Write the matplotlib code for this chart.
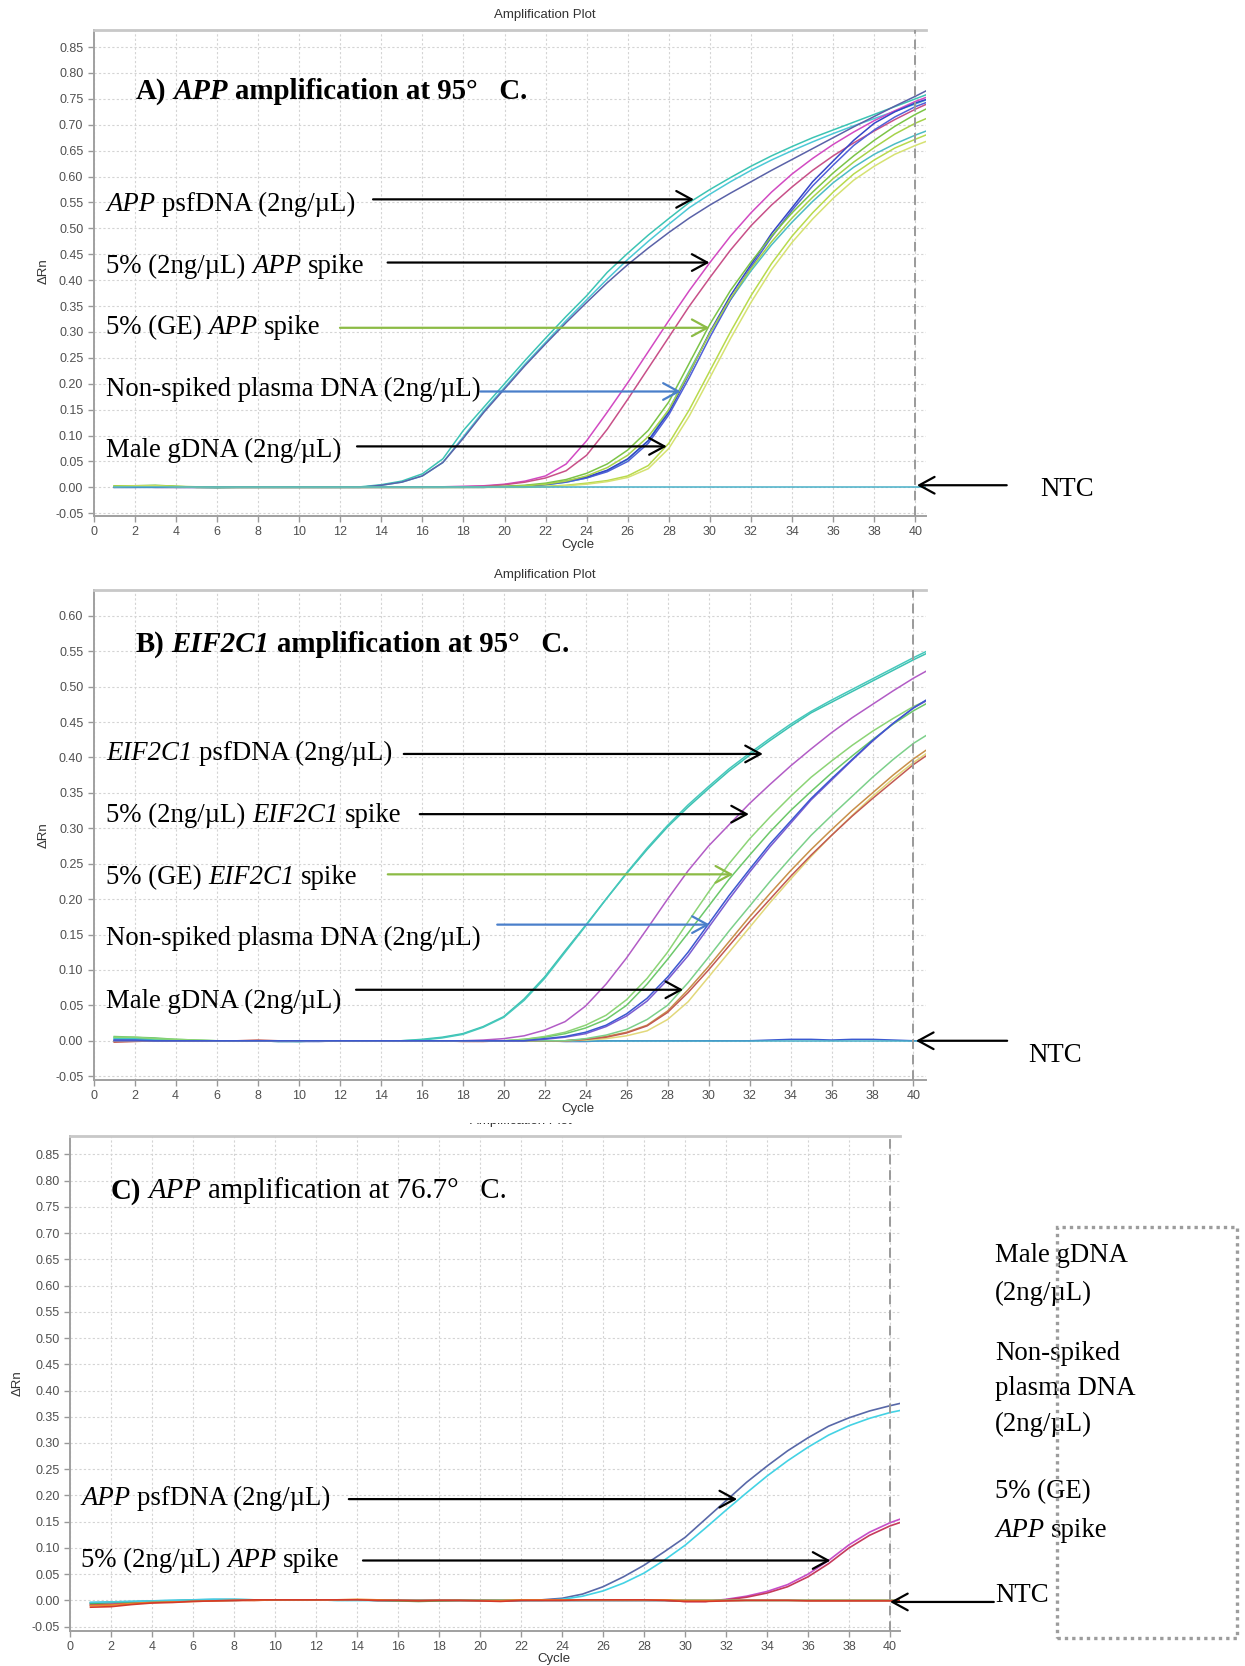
import matplotlib
matplotlib.use("Agg")
import matplotlib.pyplot as plt
from matplotlib.ticker import MultipleLocator, FormatStrFormatter
from matplotlib.transforms import IdentityTransform
from matplotlib.patches import Rectangle

plt.rcParams["axes.unicode_minus"] = False

# ---------------- data (delta Rn per cycle, cycles 1..41) ----------------
cycles = list(range(1, 42))

# A) APP at 95 C
a_psf_teal = [0.002, 0.003, 0.003, 0.001, 0.0, -0.001, 0.0, 0.0, 0.0, 0.0, 0.0, 0.0,
              0.001, 0.005, 0.012, 0.026, 0.055, 0.11, 0.155, 0.20, 0.245, 0.288, 0.33, 0.37,
              0.415, 0.452, 0.487, 0.519, 0.55, 0.575, 0.598, 0.62, 0.64, 0.658, 0.675, 0.69,
              0.705, 0.72, 0.735, 0.75, 0.765]
a_psf_cyan = [0.001, 0.002, 0.002, 0.001, 0.0, 0.0, 0.0, 0.0, 0.0, 0.0, 0.0, 0.0,
              0.0, 0.004, 0.01, 0.022, 0.048, 0.098, 0.148, 0.193, 0.238, 0.28, 0.322, 0.362,
              0.402, 0.44, 0.475, 0.508, 0.54, 0.566, 0.59, 0.612, 0.632, 0.65, 0.667, 0.683,
              0.698, 0.712, 0.726, 0.74, 0.755]
a_psf_slate = [0.0, 0.0, 0.001, 0.0, 0.0, 0.0, 0.0, 0.0, 0.0, 0.0, 0.0, 0.0,
               0.0, 0.004, 0.01, 0.022, 0.048, 0.095, 0.145, 0.19, 0.235, 0.277, 0.318, 0.357,
               0.395, 0.43, 0.462, 0.492, 0.52, 0.545, 0.568, 0.59, 0.612, 0.633, 0.654, 0.675,
               0.696, 0.716, 0.736, 0.755, 0.775]
a_spk_magenta = [0.001, 0.001, 0.0, 0.0, 0.0, 0.0, 0.0, 0.0, 0.0, 0.0, 0.0, 0.0, 0.0, 0.0, 0.0, 0.0,
                 0.001, 0.002, 0.003, 0.006, 0.012, 0.022, 0.045, 0.09, 0.145, 0.202, 0.262, 0.322,
                 0.38, 0.434, 0.485, 0.53, 0.57, 0.605, 0.635, 0.662, 0.686, 0.708, 0.727, 0.745, 0.76]
a_spk_pink = [0.0, 0.001, 0.0, 0.0, 0.0, 0.0, 0.0, 0.0, 0.0, 0.0, 0.0, 0.0, 0.0, 0.0, 0.0, 0.0,
              0.0, 0.001, 0.002, 0.005, 0.01, 0.018, 0.032, 0.062, 0.112, 0.17, 0.23, 0.29,
              0.35, 0.405, 0.458, 0.505, 0.545, 0.58, 0.612, 0.64, 0.665, 0.688, 0.71, 0.73, 0.748]
a_ge_green = [0.003, 0.003, 0.004, 0.002, 0.0, 0.0, 0.0, 0.0, 0.0, 0.0, 0.0, 0.0, 0.0, 0.0, 0.0,
              0.0, 0.0, 0.0, 0.001, 0.002, 0.004, 0.008, 0.015, 0.027, 0.045, 0.072, 0.11, 0.165,
              0.24, 0.315, 0.38, 0.435, 0.485, 0.53, 0.57, 0.607, 0.64, 0.67, 0.697, 0.72, 0.74]
a_ge_lime = [0.002, 0.003, 0.003, 0.002, 0.001, 0.0, 0.0, 0.0, 0.0, 0.0, 0.0, 0.0, 0.0, 0.0, 0.0,
             0.0, 0.0, 0.0, 0.0, 0.001, 0.003, 0.006, 0.012, 0.022, 0.038, 0.062, 0.098, 0.15,
             0.222, 0.298, 0.365, 0.422, 0.474, 0.52, 0.56, 0.596, 0.628, 0.656, 0.682, 0.703, 0.72]
a_ns_blue = [0.0, 0.0, 0.0, 0.0, 0.0, 0.0, 0.0, 0.0, 0.0, 0.0, 0.0, 0.0, 0.0, 0.0, 0.0, 0.0, 0.0,
             0.0, 0.0, 0.001, 0.003, 0.006, 0.012, 0.02, 0.033, 0.055, 0.09, 0.145, 0.22, 0.3,
             0.37, 0.43, 0.49, 0.54, 0.59, 0.63, 0.67, 0.703, 0.725, 0.742, 0.755]
a_ns_violet = [0.0, 0.0, 0.0, 0.0, 0.0, 0.0, 0.0, 0.0, 0.0, 0.0, 0.0, 0.0, 0.0, 0.0, 0.0, 0.0, 0.0,
               0.0, 0.0, 0.001, 0.002, 0.005, 0.01, 0.018, 0.03, 0.05, 0.085, 0.14, 0.212, 0.29,
               0.362, 0.425, 0.483, 0.535, 0.582, 0.622, 0.66, 0.69, 0.715, 0.735, 0.75]
a_ns_cyan = [0.0, 0.0, 0.0, 0.0, 0.0, 0.0, 0.0, 0.0, 0.0, 0.0, 0.0, 0.0, 0.0, 0.0, 0.0, 0.0, 0.0,
             0.0, 0.0, 0.001, 0.002, 0.005, 0.01, 0.018, 0.032, 0.054, 0.09, 0.15, 0.225, 0.298,
             0.362, 0.418, 0.468, 0.512, 0.552, 0.588, 0.618, 0.643, 0.663, 0.68, 0.695]
a_male_lime = [0.002, 0.002, 0.003, 0.001, 0.0, 0.0, 0.0, 0.0, 0.0, 0.0, 0.0, 0.0, 0.0, 0.0, 0.0,
               0.0, 0.0, 0.0, 0.0, 0.0, 0.0, 0.002, 0.004, 0.008, 0.013, 0.022, 0.042, 0.085,
               0.15, 0.225, 0.3, 0.37, 0.432, 0.485, 0.53, 0.57, 0.605, 0.632, 0.655, 0.672, 0.688]
a_male_yellow = [0.001, 0.002, 0.002, 0.001, 0.0, 0.0, 0.0, 0.0, 0.0, 0.0, 0.0, 0.0, 0.0, 0.0, 0.0,
                 0.0, 0.0, 0.0, 0.0, 0.0, 0.0, 0.001, 0.003, 0.006, 0.011, 0.019, 0.036, 0.075,
                 0.138, 0.212, 0.287, 0.357, 0.42, 0.473, 0.518, 0.558, 0.593, 0.62, 0.643, 0.66, 0.675]
a_ntc = [0.0, 0.0, 0.0, 0.0, 0.0, 0.0, 0.0, 0.0, 0.0, 0.0, 0.0, 0.0, 0.0, 0.0, 0.0, 0.0, 0.0,
         0.0, 0.0, 0.0, 0.0, 0.0, 0.0, 0.0, 0.0, 0.0, 0.0, 0.0, 0.0, 0.0, 0.0, 0.0, 0.0, 0.0,
         0.0, 0.0, 0.0, 0.0, 0.0, 0.0, 0.0]

# B) EIF2C1 at 95 C
b_psf_teal = [0.004, 0.003, 0.002, 0.001, 0.0, 0.0, 0.0, 0.0, -0.001, -0.001, 0.0, 0.0, 0.0, 0.0,
              0.0, 0.002, 0.005, 0.01, 0.02, 0.034, 0.059, 0.09, 0.127, 0.163, 0.2, 0.236, 0.27,
              0.302, 0.33, 0.356, 0.381, 0.403, 0.424, 0.444, 0.463, 0.478, 0.493, 0.508, 0.523,
              0.538, 0.552]
b_psf_aqua = [0.003, 0.003, 0.002, 0.001, 0.0, 0.0, 0.0, 0.0, 0.0, -0.001, 0.0, 0.0, 0.0, 0.0,
              0.0, 0.001, 0.004, 0.009, 0.019, 0.033, 0.057, 0.088, 0.125, 0.162, 0.2, 0.237, 0.272,
              0.304, 0.333, 0.359, 0.384, 0.406, 0.427, 0.447, 0.465, 0.481, 0.496, 0.511, 0.526,
              0.541, 0.555]
b_spk_purple = [0.0, 0.0, 0.0, 0.0, 0.0, 0.0, 0.0, 0.0, 0.0, 0.0, 0.0, 0.0, 0.0, 0.0, 0.0, 0.0,
                0.0, 0.0, 0.001, 0.003, 0.007, 0.015, 0.027, 0.049, 0.08, 0.117, 0.158, 0.2,
                0.24, 0.275, 0.305, 0.335, 0.362, 0.388, 0.412, 0.435, 0.456, 0.475, 0.494,
                0.512, 0.528]
b_ge_green = [0.006, 0.005, 0.004, 0.002, 0.001, 0.0, 0.0, 0.0, 0.0, 0.0, 0.0, 0.0, 0.0, 0.0,
              0.0, 0.0, 0.0, 0.0, 0.0, 0.0, 0.002, 0.005, 0.01, 0.018, 0.03, 0.05, 0.08, 0.115,
              0.152, 0.19, 0.228, 0.262, 0.295, 0.325, 0.352, 0.378, 0.402, 0.425, 0.447,
              0.466, 0.482]
b_ge_mint = [0.005, 0.005, 0.003, 0.002, 0.001, 0.0, 0.0, 0.0, 0.0, 0.0, 0.0, 0.0, 0.0, 0.0,
             0.0, 0.0, 0.0, 0.0, 0.0, 0.0, 0.002, 0.006, 0.012, 0.022, 0.036, 0.058, 0.088,
             0.125, 0.168, 0.21, 0.25, 0.285, 0.316, 0.345, 0.372, 0.395, 0.417, 0.437, 0.455,
             0.472, 0.485]
b_ns_blue = [0.001, 0.001, 0.0, 0.0, 0.0, 0.0, 0.0, 0.0, 0.0, 0.0, 0.0, 0.0, 0.0, 0.0, 0.0, 0.0,
             0.0, 0.0, 0.0, 0.0, 0.0, 0.003, 0.006, 0.012, 0.022, 0.038, 0.06, 0.09, 0.125,
             0.165, 0.205, 0.242, 0.278, 0.31, 0.342, 0.37, 0.397, 0.424, 0.448, 0.47, 0.488]
b_ns_violet = [0.0, 0.0, 0.0, 0.0, 0.0, 0.0, 0.0, 0.0, 0.0, 0.0, 0.0, 0.0, 0.0, 0.0, 0.0, 0.0,
               0.0, 0.0, 0.0, 0.0, 0.0, 0.002, 0.005, 0.01, 0.02, 0.035, 0.056, 0.086, 0.12,
               0.16, 0.2, 0.238, 0.274, 0.307, 0.34, 0.368, 0.396, 0.423, 0.448, 0.47, 0.486]
b_male_orange = [0.0, 0.0, 0.0, 0.0, 0.0, 0.0, 0.0, 0.0, 0.0, 0.0, 0.0, 0.0, 0.0, 0.0, 0.0, 0.0,
                 0.0, 0.0, 0.0, 0.0, 0.0, 0.0, 0.0, 0.002, 0.006, 0.012, 0.022, 0.042, 0.072,
                 0.105, 0.14, 0.175, 0.208, 0.24, 0.27, 0.298, 0.325, 0.35, 0.375, 0.398, 0.418]
b_male_red = [-0.002, -0.001, 0.0, 0.0, 0.0, 0.0, 0.0, 0.001, 0.0, 0.0, 0.0, 0.0, 0.0, 0.0, 0.0,
              0.0, 0.0, -0.001, -0.001, 0.0, 0.0, 0.0, 0.0, 0.002, 0.005, 0.011, 0.021, 0.04,
              0.068, 0.1, 0.134, 0.168, 0.2, 0.232, 0.262, 0.29, 0.317, 0.342, 0.366, 0.39, 0.41]
b_male_yellow = [0.0, 0.0, 0.0, 0.0, 0.0, 0.0, 0.0, 0.0, 0.0, 0.0, 0.0, 0.0, 0.0, 0.0, 0.0, 0.0,
                 0.0, 0.0, 0.0, 0.0, 0.0, 0.0, 0.0, 0.001, 0.003, 0.007, 0.014, 0.03, 0.055,
                 0.09, 0.125, 0.16, 0.195, 0.228, 0.26, 0.29, 0.318, 0.345, 0.37, 0.393, 0.413]
b_male_lgreen = [0.0, 0.0, 0.0, 0.0, 0.0, 0.0, 0.0, 0.0, 0.0, 0.0, 0.0, 0.0, 0.0, 0.0, 0.0, 0.0,
                 0.0, 0.0, 0.0, 0.0, 0.0, 0.0, 0.0, 0.003, 0.008, 0.016, 0.03, 0.05, 0.082,
                 0.118, 0.155, 0.19, 0.225, 0.258, 0.29, 0.318, 0.345, 0.372, 0.397, 0.42, 0.438]
b_ntc_teal = [0.0, 0.0, 0.0, 0.0, 0.0, 0.0, 0.0, 0.0, 0.0, 0.0, 0.0, 0.0, 0.0, 0.0, 0.0, 0.0,
              0.0, 0.0, 0.0, 0.0, 0.0, 0.0, 0.0, 0.0, 0.0, 0.0, 0.0, 0.0, 0.0, 0.0, 0.0, 0.0,
              0.0, 0.0, 0.0, 0.0, 0.0, 0.0, 0.0, 0.0, 0.0]
b_ntc_blue = [0.001, 0.001, 0.0, 0.0, 0.0, 0.0, 0.0, 0.0, -0.001, -0.001, -0.001, 0.0, 0.0, 0.0,
              0.0, 0.0, 0.0, 0.0, 0.0, 0.0, 0.0, 0.0, -0.001, -0.001, 0.0, 0.0, 0.0, 0.0, 0.0,
              0.0, 0.0, 0.0, 0.001, 0.002, 0.002, 0.001, 0.002, 0.002, 0.001, 0.0, 0.0]

# C) APP at 76.7 C
c_psf_slate = [-0.005, -0.004, -0.003, -0.002, -0.001, 0.0, 0.0, 0.001, 0.001, 0.001, 0.001,
               0.001, 0.001, 0.001, 0.0, 0.0, 0.0, 0.0, 0.0, 0.0, 0.0, 0.0, 0.001, 0.004, 0.012,
               0.026, 0.045, 0.067, 0.093, 0.12, 0.155, 0.19, 0.225, 0.256, 0.285, 0.31, 0.332,
               0.348, 0.361, 0.371, 0.38]
c_psf_cyan = [-0.004, -0.003, -0.002, -0.001, 0.0, 0.001, 0.002, 0.002, 0.001, 0.001, 0.001,
              0.001, 0.0, 0.0, 0.0, 0.0, 0.0, 0.0, 0.0, 0.0, 0.0, 0.0, 0.0, 0.002, 0.008, 0.018,
              0.033, 0.052, 0.077, 0.105, 0.138, 0.172, 0.205, 0.237, 0.266, 0.292, 0.315, 0.333,
              0.347, 0.358, 0.366]
c_spk_magenta = [-0.008, -0.007, -0.005, -0.003, -0.002, -0.001, 0.0, 0.0, 0.001, 0.001, 0.001,
                 0.001, 0.001, 0.001, 0.0, 0.0, 0.0, 0.0, 0.0, 0.0, -0.001, 0.0, 0.0, 0.0, 0.0,
                 0.0, 0.0, 0.0, 0.0, -0.002, -0.002, 0.002, 0.008, 0.017, 0.03, 0.05, 0.076,
                 0.106, 0.13, 0.148, 0.162]
c_spk_red = [-0.009, -0.008, -0.006, -0.004, -0.002, -0.001, 0.0, 0.0, 0.0, 0.001, 0.001, 0.001,
             0.001, 0.001, 0.0, 0.0, 0.0, 0.0, 0.0, 0.0, -0.001, 0.0, 0.0, 0.0, 0.0, 0.0, 0.0,
             0.0, 0.0, -0.002, -0.002, 0.001, 0.006, 0.014, 0.026, 0.045, 0.07, 0.1, 0.124,
             0.142, 0.155]
c_base_green = [-0.006, -0.004, -0.003, -0.002, -0.001, 0.0, 0.0, 0.0, 0.001, 0.001, 0.001,
                0.001, 0.001, 0.001, 0.0, -0.001, -0.002, -0.001, 0.0, 0.0, 0.0, 0.0, 0.0, 0.0,
                0.0, 0.0, 0.0, 0.0, 0.0, 0.0, 0.0, 0.0, 0.0, 0.0, 0.0, 0.0, 0.0, 0.0, 0.0, 0.0, 0.0]
c_base_cyan = [-0.004, -0.003, -0.002, -0.001, 0.0, 0.001, 0.002, 0.002, 0.001, 0.001, 0.001,
               0.001, 0.0, 0.0, 0.0, 0.0, 0.0, 0.0, 0.0, 0.0, 0.0, 0.0, 0.0, 0.0, 0.0, 0.0, 0.0,
               0.0, 0.0, 0.0, 0.0, 0.0, 0.0, 0.0, 0.0, 0.0, 0.0, 0.0, 0.0, 0.0, 0.0]
c_base_orange = [-0.01, -0.009, -0.006, -0.004, -0.003, -0.002, -0.001, 0.0, 0.0, 0.001, 0.001,
                 0.001, 0.001, 0.002, 0.001, 0.0, 0.0, 0.0, 0.0, 0.0, 0.0, 0.001, 0.001, 0.001,
                 0.001, 0.001, 0.001, 0.001, 0.001, 0.0, 0.0, 0.0, 0.0, 0.0, 0.0, 0.0, 0.0, 0.0,
                 0.0, 0.0, 0.0]
c_base_red = [-0.013, -0.012, -0.008, -0.005, -0.004, -0.002, -0.001, 0.0, 0.001, 0.001, 0.001,
              0.001, 0.001, 0.001, 0.0, 0.0, -0.001, 0.0, 0.0, -0.001, -0.002, 0.0, 0.0, 0.0,
              0.001, 0.001, 0.001, 0.001, 0.0, -0.002, -0.002, -0.001, 0.0, 0.0, 0.0, -0.001,
              -0.001, -0.001, -0.001, -0.001, -0.001]

# ---------------- layout ----------------
W, H, DPI = 1245, 1666, 100
SERIF = "Liberation Serif"
SANS = "Liberation Sans"
LABEL_PT = 19.3
TITLE_PT = 20.8

fig = plt.figure(figsize=(W / DPI, H / DPI), dpi=DPI, facecolor="white")
renderer = fig.canvas.get_renderer()
px = IdentityTransform()


def add_panel(l, t, r, b, xmax, ymin, ymax):
    ax = fig.add_axes([l / W, 1 - b / H, (r - l) / W, (b - t) / H])
    ax.set_xlim(0, xmax)
    ax.set_ylim(ymin, ymax)
    ax.xaxis.set_major_locator(MultipleLocator(2))
    ax.yaxis.set_major_locator(MultipleLocator(0.05))
    ax.yaxis.set_major_formatter(FormatStrFormatter("%.2f"))
    ax.grid(True, ls=(0, (2, 2)), color="#d4d4d4", lw=0.8)
    ax.set_axisbelow(True)
    ax.tick_params(labelsize=9, labelcolor="#505050", color="#999999", length=4, width=1)
    for lbl in ax.get_xticklabels() + ax.get_yticklabels():
        lbl.set_family(SANS)
    ax.spines["right"].set_visible(False)
    ax.spines["top"].set_color("#c8c8c8")
    ax.spines["top"].set_linewidth(2)
    for s in ("left", "bottom"):
        ax.spines[s].set_color("#a0a0a0")
        ax.spines[s].set_linewidth(1.4)
    ax.axvline(40, color="#9a9a9a", ls=(0, (5, 3)), lw=1.4, zorder=5)
    return ax


def ptext(x, y, s, **kw):
    return fig.text(x, H - y, s, transform=px, **kw)


def measure(s, **kw):
    t = fig.text(0, 0, s, **kw)
    w = t.get_window_extent(renderer).width
    t.remove()
    return w


def rich(x, yc, parts, size=LABEL_PT):
    # parts: (text, style, weight); a lone " " advances by one space
    space = measure("n n", family=SERIF, size=size) - measure("nn", family=SERIF, size=size)
    base = H - yc - 0.33 * size * DPI / 72
    for s, style, weight in parts:
        if s == " ":
            x += space
            continue
        t = fig.text(x, base, s, transform=px, family=SERIF, size=size, style=style,
                     weight=weight, va="baseline", ha="left")
        x += t.get_window_extent(renderer).width


def arrow(ax, tail, tip, y, color):
    ax.annotate("", xy=(tip, y), xytext=(tail, y), annotation_clip=False,
                arrowprops=dict(arrowstyle="->,head_length=0.55,head_width=0.3",
                                color=color, lw=1.6, shrinkA=0, shrinkB=0,
                                mutation_scale=20))


def frame_labels(title_xy, xlabel_xy, ylabel_xy):
    ptext(*title_xy, "Amplification Plot", family=SANS, size=9.5, color="#333333",
          ha="center", va="center")
    ptext(*xlabel_xy, "Cycle", family=SANS, size=9.5, color="#333333", ha="center", va="center")
    ptext(*ylabel_xy, "\u0394Rn", family=SANS, size=9.5, color="#333333", ha="center",
          va="center", rotation=90)


BLACK, GREEN, BLUE = "#000000", "#8cbb45", "#4a7fca"
N, I = "normal", "italic"

# ---------------- panel A ----------------
axA = add_panel(93.7, 30, 926.2, 516, 40.53, -0.0554, 0.883)
for vals, col in [(a_psf_teal, "#3cc4b4"), (a_psf_cyan, "#4cc8d6"),
                  (a_psf_slate, "#5a62a8"), (a_spk_magenta, "#d24ac2"), (a_spk_pink, "#c85088"),
                  (a_ns_cyan, "#4cbcc4"), (a_ns_violet, "#5060d8"), (a_ns_blue, "#3446c6"),
                  (a_ge_green, "#7cc447"), (a_ge_lime, "#a6d24a"),
                  (a_male_lime, "#b8da4c"), (a_male_yellow, "#d6e272"), (a_ntc, "#48b0c8")]:
    axA.plot(cycles, vals, color=col, lw=1.1)
frame_labels((545, 15), (578, 545), (43.5, 271))

rich(135.6, 89, [("A)", N, "bold"), (" ", N, N), ("APP", I, "bold"),
                 (" ", N, N), ("amplification at 95\u00b0   C.", N, "bold")], TITLE_PT)
rich(106, 202, [("APP", I, N), (" ", N, N), ("psfDNA (2ng/\u00b5L)", N, N)])
rich(106, 264, [("5% (2ng/\u00b5L)", N, N), (" ", N, N), ("APP", I, N), (" ", N, N), ("spike", N, N)])
rich(106, 325, [("5% (GE)", N, N), (" ", N, N), ("APP", I, N), (" ", N, N), ("spike", N, N)])
rich(106, 387.5, [("Non-spiked plasma DNA (2ng/\u00b5L)", N, N)])
rich(106, 448, [("Male gDNA (2ng/\u00b5L)", N, N)])
rich(1040, 487.5, [("NTC", N, N)])
arrow(axA, 13.60, 29.22, 0.556, BLACK)
arrow(axA, 14.31, 29.98, 0.434, BLACK)
arrow(axA, 11.99, 29.98, 0.308, GREEN)
arrow(axA, 18.83, 28.58, 0.185, BLUE)
arrow(axA, 12.82, 27.90, 0.079, BLACK)
arrow(axA, 44.45, 40.08, 0.004, BLACK)

# ---------------- panel B ----------------
axB = add_panel(93.7, 590, 926.2, 1080, 40.62, -0.0554, 0.6365)
for vals, col in [(b_ntc_blue, "#3a5ad0"), (b_ntc_teal, "#48b0c8"),
                  (b_psf_teal, "#3cc2b2"), (b_psf_aqua, "#46c8bc"), (b_spk_purple, "#b25cc6"),
                  (b_male_yellow, "#e2d87a"), (b_male_orange, "#c8904a"),
                  (b_male_red, "#c25a52"), (b_male_lgreen, "#7cd08a"),
                  (b_ge_green, "#6cc86a"), (b_ge_mint, "#8cd476"),
                  (b_ns_violet, "#7a5cd2"), (b_ns_blue, "#3c58d0")]:
    axB.plot(cycles, vals, color=col, lw=1.1)
frame_labels((545, 575), (578, 1109), (43.5, 835))

rich(135.6, 642.5, [("B)", N, "bold"), (" ", N, N), ("EIF2C1", I, "bold"),
                    (" ", N, N), ("amplification at 95\u00b0   C.", N, "bold")], TITLE_PT)
rich(106, 751.6, [("EIF2C1", I, N), (" ", N, N), ("psfDNA (2ng/\u00b5L)", N, N)])
rich(106, 812.7, [("5% (2ng/\u00b5L)", N, N), (" ", N, N), ("EIF2C1", I, N), (" ", N, N),
                  ("spike", N, N)])
rich(106, 875.6, [("5% (GE)", N, N), (" ", N, N), ("EIF2C1", I, N), (" ", N, N), ("spike", N, N)])
rich(106, 936.6, [("Non-spiked plasma DNA (2ng/\u00b5L)", N, N)])
rich(106, 999, [("Male gDNA (2ng/\u00b5L)", N, N)])
rich(1028, 1053, [("NTC", N, N)])
arrow(axB, 15.13, 32.65, 0.405, BLACK)
arrow(axB, 15.91, 31.97, 0.320, BLACK)
arrow(axB, 14.35, 31.20, 0.235, GREEN)
arrow(axB, 19.69, 30.06, 0.164, BLUE)
arrow(axB, 12.80, 28.76, 0.072, BLACK)
arrow(axB, 44.57, 40.12, 0.0, BLACK)

# ---------------- panel C ----------------
axC = add_panel(70, 1135.5, 899.5, 1630.6, 40.46, -0.0576, 0.886)
for vals, col in [(c_psf_slate, "#5868a8"), (c_psf_cyan, "#44d2e4"),
                  (c_spk_magenta, "#c64ec8"), (c_spk_red, "#c63a5c"),
                  (c_base_green, "#4aa84a"), (c_base_cyan, "#4ac8e0"),
                  (c_base_orange, "#e88a2a"), (c_base_red, "#d43a2a")]:
    axC.plot(cycles, vals, color=col, lw=1.2)
frame_labels((521, 1121), (553.6, 1659), (17.8, 1383))
# the plot header here sits mostly under the panel above
fig.patches.append(Rectangle((440, H - 1122.5), 180, 8, transform=px, facecolor="white",
                             edgecolor="none", zorder=5))

rich(110.7, 1188.7, [("C)", N, "bold"), (" ", N, N), ("APP", I, N), (" ", N, N),
                     ("amplification at 76.7\u00b0   C.", N, N)], TITLE_PT)
rich(81, 1496.5, [("APP", I, N), (" ", N, N), ("psfDNA (2ng/\u00b5L)", N, N)])
rich(81, 1558.6, [("5% (2ng/\u00b5L)", N, N), (" ", N, N), ("APP", I, N), (" ", N, N),
                  ("spike", N, N)])
arrow(axC, 13.60, 32.54, 0.193, BLACK)
arrow(axC, 14.29, 37.09, 0.076, BLACK)
arrow(axC, 45.06, 40.0, -0.003, BLACK)

rich(995, 1253.6, [("Male gDNA", N, N)])
rich(995, 1290.9, [("(2ng/\u00b5L)", N, N)])
rich(995, 1351, [("Non-spiked", N, N)])
rich(995, 1386.6, [("plasma DNA", N, N)])
rich(995, 1422, [("(2ng/\u00b5L)", N, N)])
rich(995, 1489, [("5% (GE)", N, N)])
rich(995, 1528.4, [("APP", I, N), (" ", N, N), ("spike", N, N)])
rich(995, 1593, [("NTC", N, N)])

fig.patches.append(Rectangle((1056.6, H - 1638.4), 180.2, 411.4, transform=px, fill=False,
                             edgecolor="#9c9c9c", lw=2.4, ls=(0, (1, 1.2)), zorder=6))

fig.savefig("out.png", dpi=DPI, facecolor="white")
